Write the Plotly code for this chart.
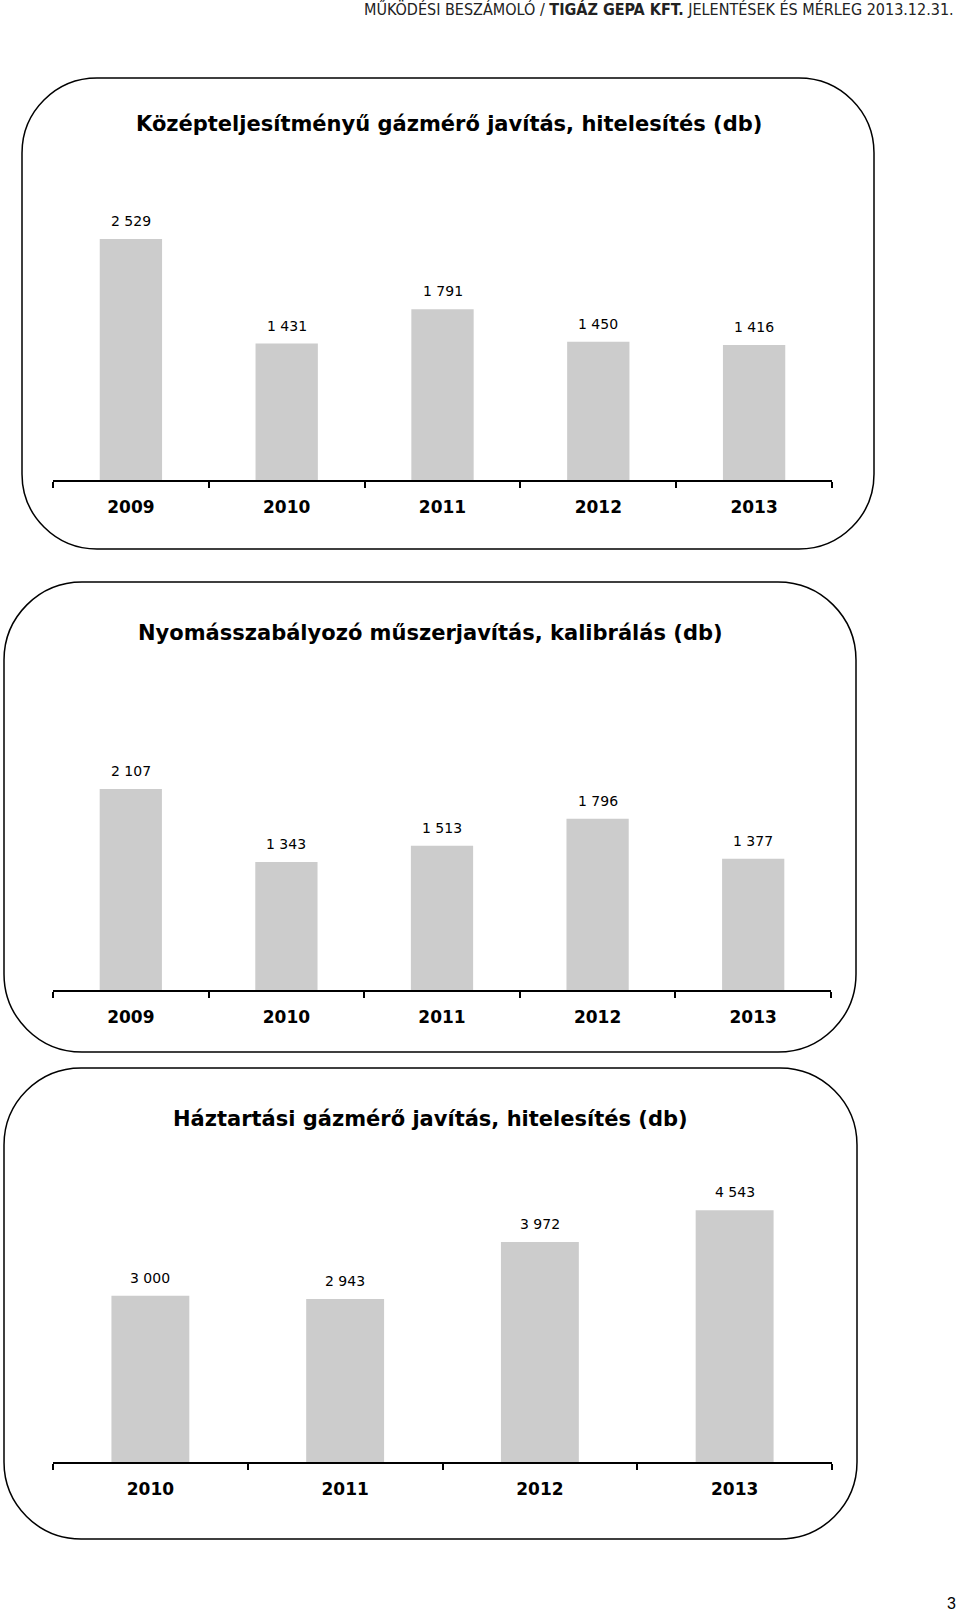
import plotly.graph_objects as go

# ---------------- data ----------------
years1 = ["2009", "2010", "2011", "2012", "2013"]
values1 = [2529, 1431, 1791, 1450, 1416]
title1 = "Középteljesítményű gázmérő javítás, hitelesítés (db)"

years2 = ["2009", "2010", "2011", "2012", "2013"]
values2 = [2107, 1343, 1513, 1796, 1377]
title2 = "Nyomásszabályozó műszerjavítás, kalibrálás (db)"

years3 = ["2010", "2011", "2012", "2013"]
values3 = [3000, 2943, 3972, 4543]
title3 = "Háztartási gázmérő javítás, hitelesítés (db)"

header_plain1 = "MŰKÖDÉSI BESZÁMOLÓ / "
header_bold = "TIGÁZ GEPA KFT."
header_plain2 = " JELENTÉSEK ÉS MÉRLEG 2013.12.31."
page_number = "3"

# ---------------- layout helpers ----------------
W, H = 960, 1612
def X(px):
    return px / W
def Y(py):
    return 1 - py / H

BAR_COLOR = "#cccccc"
FONT = "DejaVu Sans, Verdana, sans-serif"

def fmt(v):
    return f"{v:,}".replace(",", " ")

def rrect(x0, y0, x1, y1, r):
    k = 0.5523 * r
    pts = [
        ("M", [(x0 + r, y0)]),
        ("L", [(x1 - r, y0)]),
        ("C", [(x1 - r + k, y0), (x1, y0 + r - k), (x1, y0 + r)]),
        ("L", [(x1, y1 - r)]),
        ("C", [(x1, y1 - r + k), (x1 - r + k, y1), (x1 - r, y1)]),
        ("L", [(x0 + r, y1)]),
        ("C", [(x0 + r - k, y1), (x0, y1 - r + k), (x0, y1 - r)]),
        ("L", [(x0, y0 + r)]),
        ("C", [(x0, y0 + r - k), (x0 + r - k, y0), (x0 + r, y0)]),
    ]
    s = ""
    for cmd, ps in pts:
        s += cmd + " " + " ".join(f"{X(a):.5f},{Y(b):.5f}" for a, b in ps) + " "
    return s + "Z"

# panel geometry (pixels)
panels = [
    dict(box=(22, 78, 874, 549), r=75, title=title1, title_xy=(449, 124),
         axis_y=480, xdom=(53, 832), cats=years1, vals=values1, ymax=2938),
    dict(box=(4, 582, 856, 1052), r=78, title=title2, title_xy=(430, 633),
         axis_y=990, xdom=(53, 831), cats=years2, vals=values2, ymax=2935),
    dict(box=(4, 1068, 857, 1539), r=77, title=title3, title_xy=(430, 1119),
         axis_y=1462, xdom=(53, 832), cats=years3, vals=values3, ymax=5054),
]
PLOT_H = 280

fig = go.Figure()
shapes = []
annotations = []

for i, p in enumerate(panels, start=1):
    xa = "x" if i == 1 else f"x{i}"
    ya = "y" if i == 1 else f"y{i}"
    fig.add_trace(go.Bar(
        x=p["cats"], y=p["vals"], xaxis=xa, yaxis=ya,
        marker=dict(color=BAR_COLOR, line=dict(width=0)),
        width=0.4, hoverinfo="skip", showlegend=False,
    ))
    key_x = "xaxis" if i == 1 else f"xaxis{i}"
    key_y = "yaxis" if i == 1 else f"yaxis{i}"
    fig.layout[key_x] = dict(
        domain=[X(p["xdom"][0]), X(p["xdom"][1])],
        anchor=ya, type="category",
        range=[-0.5, len(p["cats"]) - 0.5],
        showline=True, linecolor="black", linewidth=2,
        ticks="outside", tickson="boundaries", ticklen=6, tickwidth=2,
        tickcolor="black", showgrid=False, zeroline=False,
        tickfont=dict(family=FONT, size=17, color="black", weight="bold"),
        ticklabelstandoff=11, fixedrange=True,
    )
    fig.layout[key_y] = dict(
        domain=[Y(p["axis_y"]), Y(p["axis_y"] - PLOT_H)],
        anchor=xa, range=[0, p["ymax"]], visible=False, fixedrange=True,
    )
    x0, y0, x1, y1 = p["box"]
    shapes.append(dict(type="path", xref="paper", yref="paper",
                       path=rrect(x0, y0, x1, y1, p["r"]),
                       line=dict(color="black", width=1.5), layer="below"))
    annotations.append(dict(
        xref="paper", yref="paper", x=X(p["title_xy"][0]), y=Y(p["title_xy"][1]),
        text=p["title"], showarrow=False, xanchor="center", yanchor="middle",
        font=dict(family=FONT, size=21, color="black", weight="bold"),
    ))
    for idx, v in enumerate(p["vals"]):
        annotations.append(dict(
            xref=xa, yref=ya, x=idx, y=v, text=fmt(v), showarrow=False,
            xanchor="center", yanchor="middle", yshift=18,
            font=dict(family=FONT, size=14, color="black"),
        ))

annotations.append(dict(
    xref="paper", yref="paper", x=X(956), y=Y(9),
    text=header_plain1 + "<b>" + header_bold + "</b>" + header_plain2,
    showarrow=False, xanchor="right", yanchor="middle",
    font=dict(family="Liberation Sans Narrow, DejaVu Sans Condensed, Arial Narrow, sans-serif",
              size=16, color="#222222"),
))
annotations.append(dict(
    xref="paper", yref="paper", x=X(958), y=Y(1603),
    text=page_number, showarrow=False, xanchor="right", yanchor="middle",
    font=dict(family="Liberation Sans, Arial, sans-serif", size=16, color="black"),
))

fig.update_layout(
    width=W, height=H, margin=dict(l=0, r=0, t=0, b=0),
    paper_bgcolor="white", plot_bgcolor="white",
    shapes=shapes, annotations=annotations, bargap=0.6,
)

fig.write_html("out.html", config={"displayModeBar": False},
               post_script="document.body.style.margin='0';")
